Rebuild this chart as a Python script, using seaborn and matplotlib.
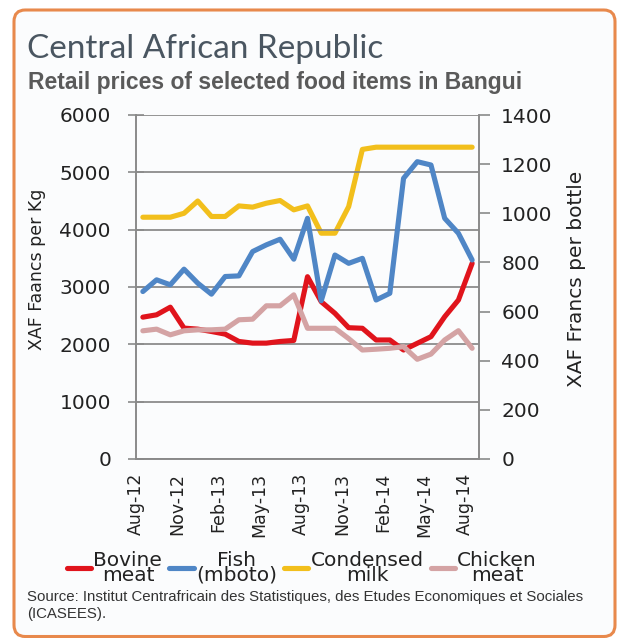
import numpy as np
import pandas as pd
import seaborn as sns
import matplotlib.pyplot as plt
from matplotlib.patches import FancyBboxPatch

months = ['Aug-12', 'Sep-12', 'Oct-12', 'Nov-12', 'Dec-12', 'Jan-13', 'Feb-13', 'Mar-13',
          'Apr-13', 'May-13', 'Jun-13', 'Jul-13', 'Aug-13', 'Sep-13', 'Oct-13', 'Nov-13',
          'Dec-13', 'Jan-14', 'Feb-14', 'Mar-14', 'Apr-14', 'May-14', 'Jun-14', 'Jul-14', 'Aug-14']

bovine = [2474, 2515, 2648, 2283, 2265, 2224, 2178, 2050, 2021, 2021, 2050, 2068, 3180,
          2744, 2541, 2290, 2280, 2076, 2076, 1901, 2018, 2134, 2482, 2773, 3413]
fish = [2921, 3125, 3038, 3311, 3067, 2875, 3183, 3194, 3618, 3735, 3833, 3485, 4198,
        2760, 3558, 3413, 3500, 2773, 2890, 4896, 5186, 5128, 4198, 3937, 3471]
chicken = [2236, 2265, 2166, 2236, 2253, 2253, 2265, 2428, 2439, 2672, 2672, 2863, 2280,
           2280, 2280, 2100, 1901, 1915, 1931, 1959, 1739, 1830, 2076, 2238, 1931]
milk = [984, 984, 984, 1000, 1050, 987, 987, 1030, 1025, 1041, 1052, 1014, 1030,
        919, 919, 1027, 1260, 1269, 1269, 1269, 1269, 1269, 1269, 1269, 1269]

tick_labels = ['Aug-12', 'Nov-12', 'Feb-13', 'May-13', 'Aug-13', 'Nov-13', 'Feb-14', 'May-14', 'Aug-14']

df = pd.DataFrame({'idx': np.arange(len(months)), 'month': months,
                   'bovine': bovine, 'fish': fish, 'chicken': chicken, 'milk': milk})

sns.set_style('white')
plt.rcParams['font.family'] = ['DejaVu Sans']

fig = plt.figure(figsize=(6.22, 6.38), dpi=100)
fig.patch.set_facecolor('white')

# rounded orange frame
frame = FancyBboxPatch((14 / 622, 1.5 / 638), (615 - 14) / 622, (628 - 1.5) / 638,
                       boxstyle='round,pad=0,rounding_size=0.018',
                       transform=fig.transFigure, ec='#e8894c', fc='#fbfcfd', lw=2.2,
                       zorder=0)
fig.patches.append(frame)

ax = fig.add_axes([136 / 622, 1 - 459 / 638, 343 / 622, 344 / 638])
ax.set_facecolor('none')
ax2 = ax.twinx()

red = '#e0141c'
blue = '#4f86c6'
yellow = '#f2bf1c'
pink = '#d4a3a4'
lw = 3.7

sns.lineplot(data=df, x='idx', y='bovine', ax=ax, color=red, lw=lw, label='Bovine\nmeat', legend=False)
sns.lineplot(data=df, x='idx', y='fish', ax=ax, color=blue, lw=lw, label='Fish\n(mboto)', legend=False)
sns.lineplot(data=df, x='idx', y='milk', ax=ax2, color=yellow, lw=lw, label='Condensed\nmilk', legend=False)
sns.lineplot(data=df, x='idx', y='chicken', ax=ax, color=pink, lw=lw, label='Chicken\nmeat', legend=False)

ax.set_zorder(2)
ax2.set_zorder(1)

ax.set_xlim(-0.5, 24.5)
ax.set_ylim(0, 6000)
ax2.set_ylim(0, 1400)
ax.set_yticks(range(0, 6001, 1000))
ax2.set_yticks(range(0, 1401, 200))
ax.set_xticks([i - 0.5 for i in range(0, 25, 3)])
ax.set_xticklabels(tick_labels, rotation=90)

ax.yaxis.grid(True, color='#828282', lw=1.2)
ax.set_axisbelow(True)
for a in (ax, ax2):
    a.set_xlabel('')
    a.set_ylabel('')
    a.spines['top'].set_visible(False)
    for s in ('left', 'right', 'bottom'):
        a.spines[s].set_color('#8a8a8a')
        a.spines[s].set_linewidth(1.2)

ax.tick_params(axis='y', direction='inout', length=12, width=1.2, color='#8a8a8a',
               labelsize=14.5, pad=12, labelcolor='#222222')
ax.tick_params(axis='x', direction='inout', length=10, width=1.2, color='#8a8a8a',
               labelsize=12.5, pad=5, labelcolor='#222222')
ax2.tick_params(axis='y', direction='out', length=8, width=1.2, color='#8a8a8a',
                labelsize=14.5, pad=8, labelcolor='#222222')

fig.text(37 / 622, 1 - 269 / 638, 'XAF Faancs per Kg', rotation=90, ha='center', va='center',
         fontsize=12.5, color='#222222')
fig.text(576 / 622, 1 - 279 / 638, 'XAF Francs per bottle', rotation=90, ha='center', va='center',
         fontsize=14.5, color='#222222')

# titles
fig.text(27 / 622, 1 - 58 / 638, 'Central African Republic', ha='left', va='baseline',
         fontsize=24, family=['Lato', 'DejaVu Sans'], fontweight='normal', color='#4a5661')
fig.text(28 / 622, 1 - 89 / 638, 'Retail prices of selected food items in Bangui', ha='left',
         va='baseline', fontsize=16.5, family=['Liberation Sans', 'DejaVu Sans'],
         fontweight='bold', color='#5a5a5a')

# legend
h1, l1 = ax.get_legend_handles_labels()
h2, l2 = ax2.get_legend_handles_labels()
handles = [h1[0], h1[1], h2[0], h1[2]]
labels = [l1[0], l1[1], l2[0], l1[2]]
leg = fig.legend(handles, labels, loc='center', bbox_to_anchor=(302 / 622, 1 - 568 / 638),
                 ncol=4, frameon=False, fontsize=14.5, handlelength=1.2, handletextpad=0.12,
                 columnspacing=0.35, borderaxespad=0)
for t in leg.get_texts():
    t.set_multialignment('center')
    t.set_linespacing(0.7)
    t.set_color('#222222')

fig.text(27 / 622, 1 - 590 / 638,
         'Source: Institut Centrafricain des Statistiques, des Etudes Economiques et Sociales\n(ICASEES).',
         ha='left', va='top', fontsize=10.8, family=['Liberation Sans', 'DejaVu Sans'],
         color='#333333', linespacing=1.3)

plt.savefig('out.png', dpi=100)
plt.close()
